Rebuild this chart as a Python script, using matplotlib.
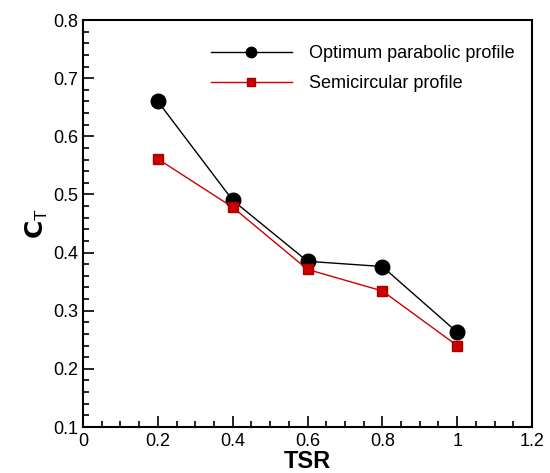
import matplotlib.pyplot as plt
from matplotlib.ticker import MultipleLocator

plt.rcParams['font.family'] = ['Liberation Sans', 'DejaVu Sans']

tsr = [0.2, 0.4, 0.6, 0.8, 1.0]
ct_parabolic = [0.66, 0.49, 0.385, 0.376, 0.263]
ct_semicircular = [0.561, 0.478, 0.371, 0.334, 0.240]

fig = plt.figure(figsize=(5.5, 4.73), dpi=100)
ax = fig.add_axes([83/550, 46/473, 449/550, 407/473])

ax.plot(tsr, ct_parabolic, '-o', color='black', lw=1.0, ms=10.5,
        label='Optimum parabolic profile')
ax.plot(tsr, ct_semicircular, '-s', color='#cc0000', mfc='#cc0000', mec='#aa0000',
        lw=1.0, ms=7, label='Semicircular profile')

ax.set_xlim(0, 1.2)
ax.set_ylim(0.1, 0.8)
ax.xaxis.set_major_locator(MultipleLocator(0.2))
ax.xaxis.set_minor_locator(MultipleLocator(0.05))
ax.yaxis.set_major_locator(MultipleLocator(0.1))
ax.yaxis.set_minor_locator(MultipleLocator(0.02))
ax.set_xticks([0, 0.2, 0.4, 0.6, 0.8, 1.0, 1.2], ['0', '0.2', '0.4', '0.6', '0.8', '1', '1.2'])
ax.tick_params(which='both', direction='in', top=False, right=False, labelsize=13, width=1.2)
ax.tick_params(which='major', length=8)
ax.tick_params(which='minor', length=4)
ax.tick_params(axis='x', pad=4)
for s in ax.spines.values():
    s.set_linewidth(1.5)

ax.set_xlabel('TSR', fontsize=17, fontweight='bold', labelpad=0)
ax.set_ylabel(r'$\mathbf{C}_\mathregular{T}$', fontsize=18, labelpad=2)

leg = ax.legend(loc='upper right', frameon=False, fontsize=13, handlelength=4.5,
                handletextpad=0.95, labelspacing=0.72,
                bbox_to_anchor=(0.998, 0.978))
# smaller markers in the legend keys
for h, ms in zip(leg.legend_handles, [7.5, 5.5]):
    h.set_markersize(ms)

fig.savefig('out.png', dpi=100)
